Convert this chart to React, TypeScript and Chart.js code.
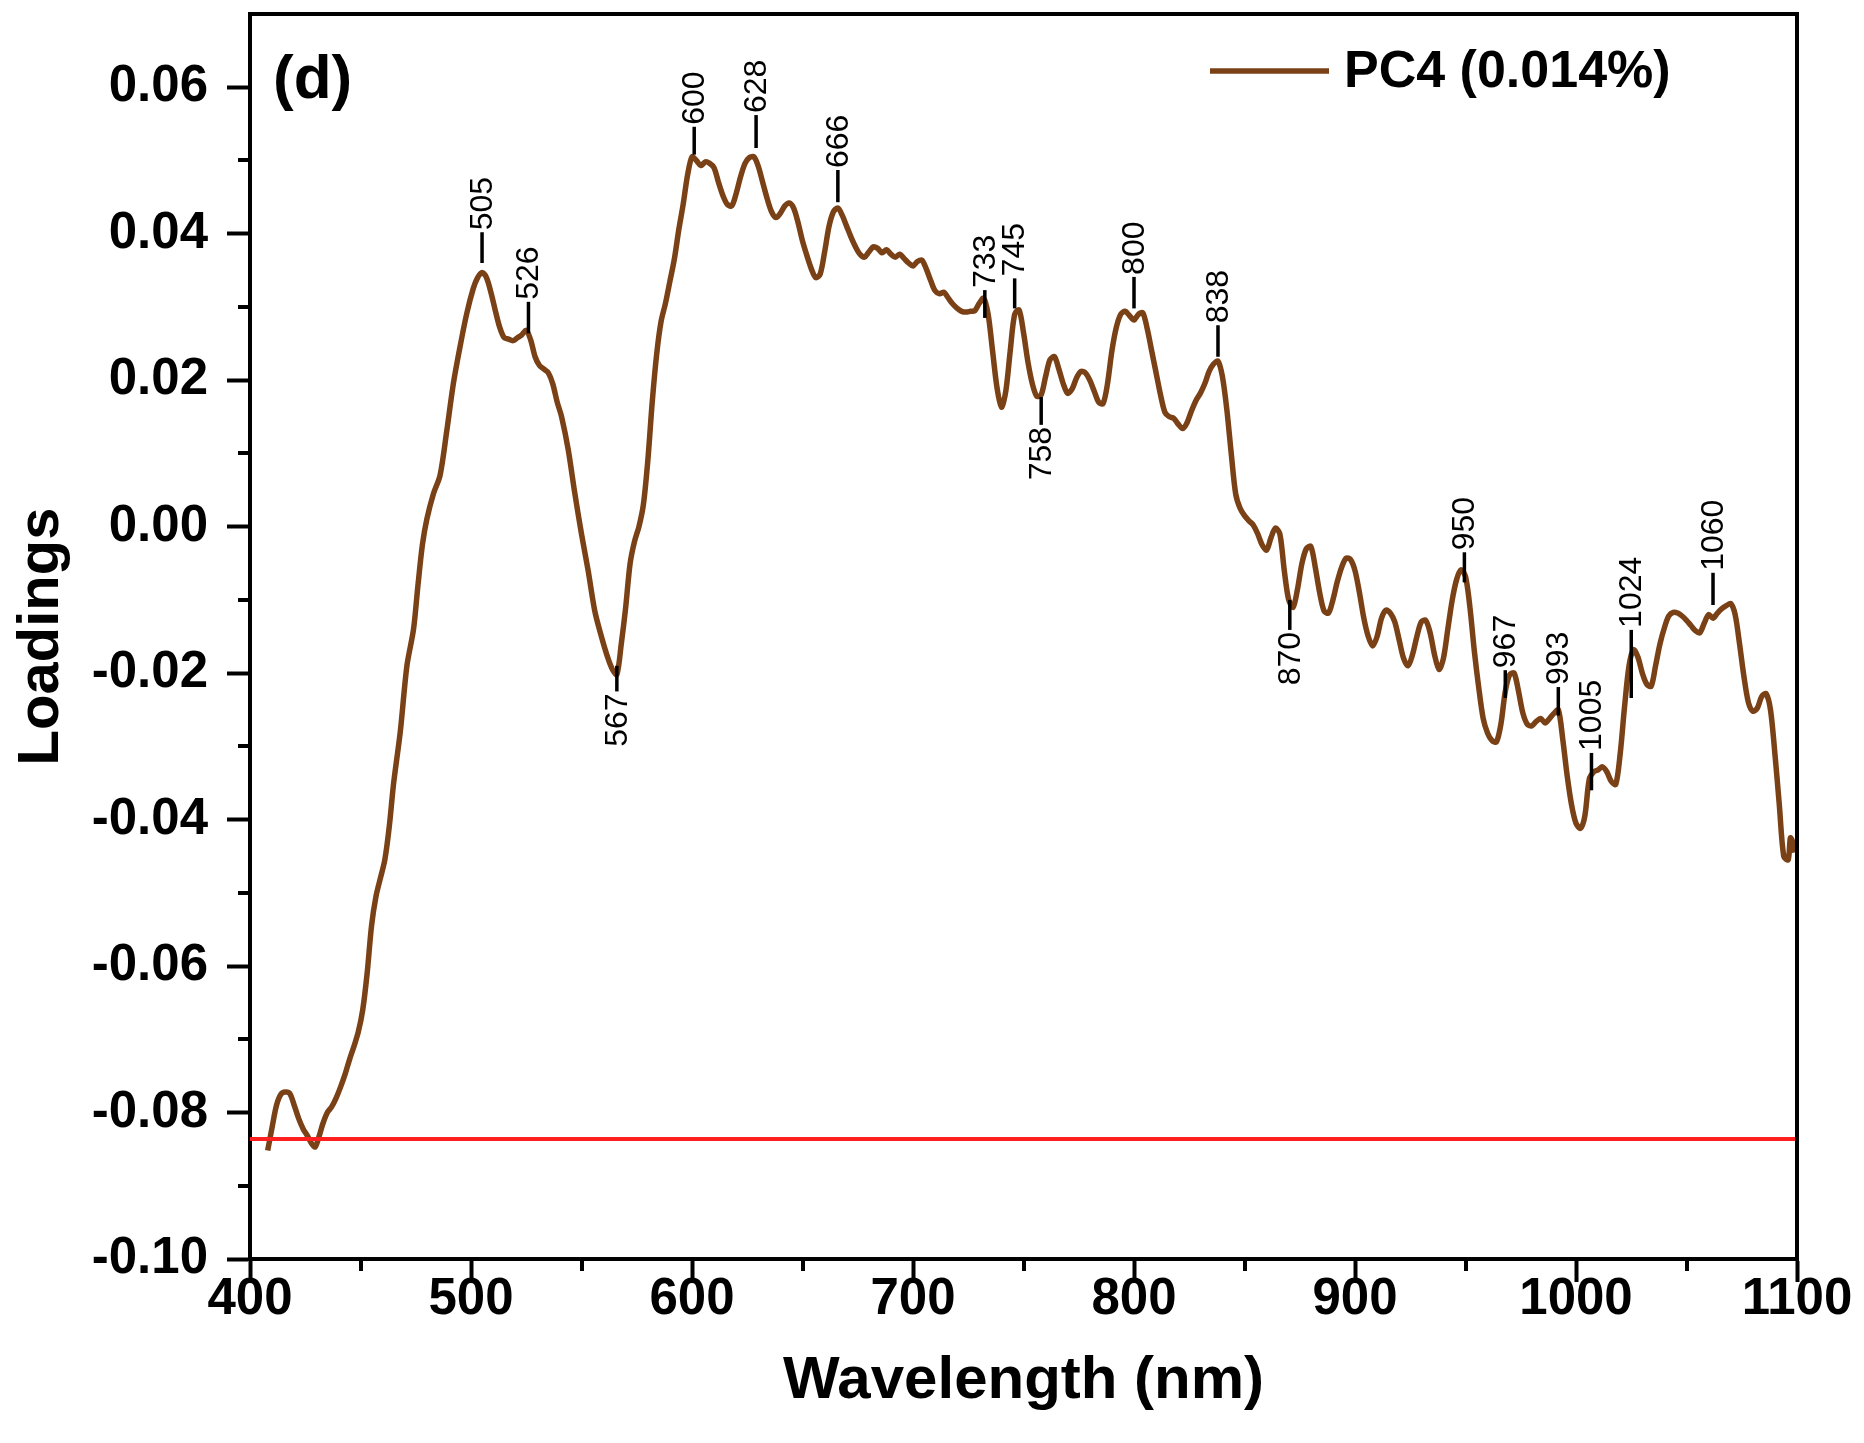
import React, { useEffect, useRef } from 'react';
import { Chart, registerables } from 'chart.js';

Chart.register(...registerables);

// ---- data ----
const wavelengths = [
  408, 410, 412, 414, 416, 418, 420, 422, 424, 426, 428, 429.5, 431, 433, 435, 437, 439, 441, 443, 445,
  447, 449, 451, 453, 455, 457, 459, 461, 463, 465, 468, 471, 474, 476, 478, 480, 483, 486, 489, 492,
  495, 498, 501, 503, 505, 507, 509, 511, 513, 515, 517, 519, 521, 523, 525, 527, 529, 531, 533, 535,
  537, 539, 541, 544, 547, 550, 553, 556, 559, 562, 564, 566, 568, 570, 572, 574, 576, 578, 580, 582,
  584, 586, 588, 590, 592, 594, 596, 598, 600, 602, 604, 606, 608, 610, 612, 614, 616, 618, 620, 622,
  624, 626, 628, 630, 632, 634, 636, 638, 640, 642, 644, 646, 648, 650, 652, 654, 656, 658, 660, 662,
  664, 666, 668, 670, 672, 674, 676, 678, 680, 682, 684, 686, 688, 690, 692, 694, 696, 698, 700, 702,
  704, 706, 708, 710, 712, 714, 716, 718, 720, 722, 724, 726, 728, 730, 732, 734, 736, 738, 740, 742,
  744, 746, 748, 750, 752, 754, 756, 758, 760, 762, 764, 766, 768, 770, 772, 774, 776, 778, 780, 782,
  784, 786, 788, 790, 792, 794, 796, 798, 800, 802, 804, 806, 808, 810, 812, 814, 816, 818, 820, 822,
  824, 826, 828, 830, 832, 834, 836, 838, 840, 842, 844, 846, 848, 850, 852, 854, 856, 858, 860, 862,
  864, 866, 868, 870, 872, 874, 876, 878, 880, 882, 884, 886, 888, 890, 892, 894, 896, 898, 900, 902,
  904, 906, 908, 910, 912, 914, 916, 918, 920, 922, 924, 926, 928, 930, 932, 934, 936, 938, 940, 942,
  944, 946, 948, 950, 952, 954, 956, 958, 960, 962, 964, 966, 968, 970, 972, 974, 976, 978, 980, 982,
  984, 986, 988, 990, 992, 994, 996, 998, 1000, 1002, 1004, 1006, 1008, 1010, 1012, 1014, 1016, 1018, 1020, 1022,
  1024, 1026, 1028, 1030, 1032, 1034, 1036, 1038, 1040, 1042, 1044, 1046, 1048, 1050, 1052, 1054, 1056, 1058, 1060, 1062,
  1064, 1066, 1068, 1070, 1072, 1074, 1076, 1078, 1080, 1082, 1084, 1086, 1088, 1090, 1092, 1094, 1096, 1097, 1098, 1099,
];

const loadings = [
  -0.0852, -0.0820, -0.0790, -0.0775, -0.0772, -0.0774, -0.0790, -0.0808, -0.0822, -0.0832, -0.0843, -0.0847, -0.0835, -0.0815, -0.0800, -0.0792, -0.0780, -0.0765, -0.0748, -0.0728,
  -0.0710, -0.0690, -0.0660, -0.0610, -0.0545, -0.0505, -0.0480, -0.0455, -0.0410, -0.0350, -0.0280, -0.0190, -0.0140, -0.0080, -0.0025, 0.0010, 0.0045, 0.0070, 0.0130, 0.0195,
  0.0245, 0.0290, 0.0325, 0.0340, 0.0347, 0.0340, 0.0320, 0.0295, 0.0272, 0.0258, 0.0256, 0.0254, 0.0258, 0.0262, 0.0268, 0.0255, 0.0232, 0.0220, 0.0215, 0.0210,
  0.0195, 0.0170, 0.0150, 0.0105, 0.0045, -0.0010, -0.0060, -0.0115, -0.0150, -0.0180, -0.0195, -0.0202, -0.0160, -0.0110, -0.0050, -0.0020, 0.0000, 0.0030, 0.0090, 0.0170,
  0.0235, 0.0280, 0.0305, 0.0335, 0.0365, 0.0405, 0.0440, 0.0480, 0.0505, 0.0500, 0.0493, 0.0498, 0.0496, 0.0490, 0.0470, 0.0452, 0.0440, 0.0438, 0.0455, 0.0478,
  0.0496, 0.0504, 0.0505, 0.0492, 0.0470, 0.0448, 0.0430, 0.0422, 0.0428, 0.0438, 0.0442, 0.0435, 0.0415, 0.0390, 0.0370, 0.0352, 0.0340, 0.0345, 0.0375, 0.0410,
  0.0430, 0.0435, 0.0425, 0.0410, 0.0395, 0.0382, 0.0372, 0.0368, 0.0375, 0.0382, 0.0380, 0.0374, 0.0378, 0.0372, 0.0368, 0.0372, 0.0366, 0.0360, 0.0356, 0.0362,
  0.0364, 0.0352, 0.0336, 0.0322, 0.0318, 0.0320, 0.0312, 0.0304, 0.0298, 0.0294, 0.0293, 0.0294, 0.0295, 0.0305, 0.0312, 0.0290, 0.0240, 0.0190, 0.0163, 0.0185,
  0.0240, 0.0290, 0.0296, 0.0265, 0.0225, 0.0195, 0.0178, 0.0180, 0.0205, 0.0228, 0.0232, 0.0215, 0.0195, 0.0182, 0.0188, 0.0203, 0.0212, 0.0210, 0.0200, 0.0185,
  0.0170, 0.0168, 0.0195, 0.0240, 0.0272, 0.0290, 0.0294, 0.0288, 0.0282, 0.0290, 0.0292, 0.0270, 0.0240, 0.0210, 0.0180, 0.0156, 0.0150, 0.0148, 0.0140, 0.0134,
  0.0142, 0.0158, 0.0172, 0.0182, 0.0195, 0.0212, 0.0222, 0.0226, 0.0205, 0.0160, 0.0100, 0.0045, 0.0025, 0.0015, 0.0008, 0.0002, -0.0010, -0.0025, -0.0032, -0.0015,
  -0.0002, -0.0010, -0.0060, -0.0100, -0.0110, -0.0085, -0.0050, -0.0030, -0.0027, -0.0055, -0.0090, -0.0115, -0.0118, -0.0100, -0.0075, -0.0055, -0.0043, -0.0045, -0.0060, -0.0090,
  -0.0125, -0.0150, -0.0163, -0.0150, -0.0125, -0.0114, -0.0118, -0.0130, -0.0155, -0.0180, -0.0190, -0.0175, -0.0150, -0.0130, -0.0128, -0.0145, -0.0175, -0.0195, -0.0180, -0.0140,
  -0.0100, -0.0072, -0.0059, -0.0068, -0.0110, -0.0170, -0.0220, -0.0262, -0.0282, -0.0292, -0.0294, -0.0270, -0.0225, -0.0202, -0.0200, -0.0225, -0.0255, -0.0270, -0.0272, -0.0266,
  -0.0262, -0.0268, -0.0262, -0.0255, -0.0250, -0.0290, -0.0340, -0.0380, -0.0405, -0.0412, -0.0395, -0.0345, -0.0335, -0.0332, -0.0328, -0.0335, -0.0348, -0.0352, -0.0310, -0.0245,
  -0.0190, -0.0168, -0.0178, -0.0200, -0.0215, -0.0218, -0.0190, -0.0160, -0.0138, -0.0122, -0.0117, -0.0118, -0.0122, -0.0128, -0.0135, -0.0142, -0.0145, -0.0132, -0.0120, -0.0125,
  -0.0118, -0.0112, -0.0108, -0.0105, -0.0120, -0.0160, -0.0205, -0.0240, -0.0252, -0.0248, -0.0232, -0.0228, -0.0250, -0.0310, -0.0380, -0.0450, -0.0455, -0.0425, -0.0430, -0.0445,
];

const thresholdLevel = -0.0836;
const thresholdRange = [400, 1100];

const xTickValues = [400, 500, 600, 700, 800, 900, 1000, 1100];
const xMinorTickValues = [450, 550, 650, 750, 850, 950, 1050];
const yTickValues = [-0.1, -0.08, -0.06, -0.04, -0.02, 0, 0.02, 0.04, 0.06];
const yMinorTickValues = [-0.09, -0.07, -0.05, -0.03, -0.01, 0.01, 0.03, 0.05];

const peakLabels = ['505', '526', '567', '600', '628', '666', '733', '745', '758', '800', '838', '870', '950', '967', '993', '1005', '1024', '1060'];
const peakPositions = [505, 526, 566, 601, 629, 666, 732.5, 746, 758, 800, 838, 870.5, 949.5, 968, 992, 1007, 1025, 1062];
const peakStartValues = [0.036, 0.0264, -0.019, 0.0508, 0.0517, 0.0443, 0.0285, 0.0298, 0.0177, 0.0298, 0.0232, -0.010, -0.0076, -0.0234, -0.0258, -0.036, -0.0234, -0.0107];
const peakEndValues = [0.0402, 0.0307, -0.0225, 0.0546, 0.0562, 0.0487, 0.0323, 0.0339, 0.0139, 0.0341, 0.0275, -0.0141, -0.0035, -0.0196, -0.0219, -0.0309, -0.0141, -0.0063];

const seriesLabel = 'PC4 (0.014%)';
const panelLabel = '(d)';
const xTitle = 'Wavelength (nm)';
const yTitle = 'Loadings';

// ---- styles ----
const FONT = "'Liberation Sans', Arial, Helvetica, sans-serif";
const CURVE_COLOR = '#7a4116';
const RED = '#ff1f1f';

const decorPlugin = {
  id: 'decor',
  afterDraw(chart: any) {
    const { ctx, chartArea } = chart;
    const { left, right, top, bottom } = chartArea;
    const xs = chart.scales.x;
    const ys = chart.scales.y;
    ctx.save();
    // frame (top & right)
    ctx.strokeStyle = '#000';
    ctx.lineWidth = 4;
    ctx.beginPath();
    ctx.moveTo(left - 2, top);
    ctx.lineTo(right, top);
    ctx.lineTo(right, bottom + 2);
    ctx.stroke();
    // minor ticks
    ctx.beginPath();
    xMinorTickValues.forEach((v) => {
      const px = Math.round(xs.getPixelForValue(v));
      ctx.moveTo(px, bottom);
      ctx.lineTo(px, bottom + 12);
    });
    yMinorTickValues.forEach((v) => {
      const py = Math.round(ys.getPixelForValue(v));
      ctx.moveTo(left, py);
      ctx.lineTo(left - 12, py);
    });
    ctx.stroke();
    // peak annotations
    ctx.lineWidth = 3.5;
    ctx.fillStyle = '#000';
    ctx.font = `32px ${FONT}`;
    ctx.textBaseline = 'middle';
    peakLabels.forEach((lab, i) => {
      const px = xs.getPixelForValue(peakPositions[i]);
      const y0 = ys.getPixelForValue(peakStartValues[i]);
      const y1 = ys.getPixelForValue(peakEndValues[i]);
      ctx.beginPath();
      ctx.moveTo(px, y0);
      ctx.lineTo(px, y1);
      ctx.stroke();
      ctx.save();
      ctx.translate(px, y1);
      ctx.rotate(-Math.PI / 2);
      if (y1 < y0) {
        ctx.textAlign = 'left';
        ctx.fillText(lab, 2, 1);
      } else {
        ctx.textAlign = 'right';
        ctx.fillText(lab, -2, 1);
      }
      ctx.restore();
    });
    // panel label
    ctx.font = `bold 62px ${FONT}`;
    ctx.textAlign = 'left';
    ctx.textBaseline = 'middle';
    ctx.fillText(panelLabel, left + 23, top + 67);
    // legend
    const ly = top + 57;
    ctx.strokeStyle = CURVE_COLOR;
    ctx.lineWidth = 5.5;
    ctx.beginPath();
    ctx.moveTo(right - 587, ly);
    ctx.lineTo(right - 468, ly);
    ctx.stroke();
    ctx.font = `bold 52px ${FONT}`;
    ctx.fillStyle = '#000';
    ctx.fillText(seriesLabel, right - 453, ly + 2);
    ctx.restore();
  },
};

export default function App() {
  const canvasRef = useRef<HTMLCanvasElement | null>(null);

  useEffect(() => {
    const canvas = canvasRef.current;
    if (!canvas) return;
    const tickFont = { family: FONT, size: 51, weight: 'bold' as const, lineHeight: 1 };
    const chart = new Chart(canvas, {
      type: 'line',
      data: {
        datasets: [
          {
            label: 'threshold',
            data: thresholdRange.map((w) => ({ x: w, y: thresholdLevel })),
            borderColor: RED,
            borderWidth: 4,
            pointRadius: 0,
            tension: 0,
          },
          {
            label: seriesLabel,
            data: wavelengths.map((w, i) => ({ x: w, y: loadings[i] })),
            borderColor: CURVE_COLOR,
            borderWidth: 5.5,
            pointRadius: 0,
            tension: 0.3,
          },
        ],
      },
      options: {
        animation: false,
        responsive: false,
        devicePixelRatio: 1,
        events: [],
        layout: { padding: { left: 0, top: 14, right: 67, bottom: 0 } },
        plugins: {
          legend: { display: false },
          tooltip: { enabled: false },
        },
        scales: {
          x: {
            type: 'linear',
            min: 400,
            max: 1100,
            afterFit: (s: any) => {
              s.height = 184;
              s.paddingLeft = 0;
              s.paddingRight = 0;
            },
            afterBuildTicks: (s: any) => {
              s.ticks = xTickValues.map((v) => ({ value: v }));
            },
            grid: { drawOnChartArea: false, drawTicks: true, tickLength: 23, tickWidth: 4, tickColor: '#000' },
            border: { display: true, color: '#000', width: 4 },
            ticks: {
              color: '#000',
              padding: -8,
              maxRotation: 0,
              autoSkip: false,
              font: tickFont,
              callback: (v: any) => String(v),
            },
            title: {
              display: true,
              text: xTitle,
              color: '#000',
              font: { family: FONT, size: 60, weight: 'bold', lineHeight: 1.2 },
              padding: { top: 0, bottom: 26 },
            },
          },
          y: {
            type: 'linear',
            min: -0.1,
            max: 0.07,
            afterFit: (s: any) => {
              s.width = 250;
              s.paddingTop = 0;
              s.paddingBottom = 0;
            },
            afterBuildTicks: (s: any) => {
              s.ticks = yTickValues.map((v) => ({ value: v }));
            },
            grid: { drawOnChartArea: false, drawTicks: true, tickLength: 23, tickWidth: 4, tickColor: '#000' },
            border: { display: true, color: '#000', width: 4 },
            ticks: {
              color: '#000',
              padding: 19,
              autoSkip: false,
              font: tickFont,
              callback: (v: any) => Number(v).toFixed(2),
            },
            title: {
              display: true,
              text: yTitle,
              color: '#000',
              font: { family: FONT, size: 58, weight: 'bold', lineHeight: 1.2 },
              padding: { top: 7, bottom: 0 },
            },
          },
        },
      },
      plugins: [decorPlugin],
    });
    return () => chart.destroy();
  }, []);

  return (
    <div style={{ position: 'absolute', left: 0, top: 0, width: 1864, height: 1443, background: '#fff' }}>
      <canvas ref={canvasRef} width={1864} height={1443} style={{ display: 'block', width: 1864, height: 1443 }} />
    </div>
  );
}
